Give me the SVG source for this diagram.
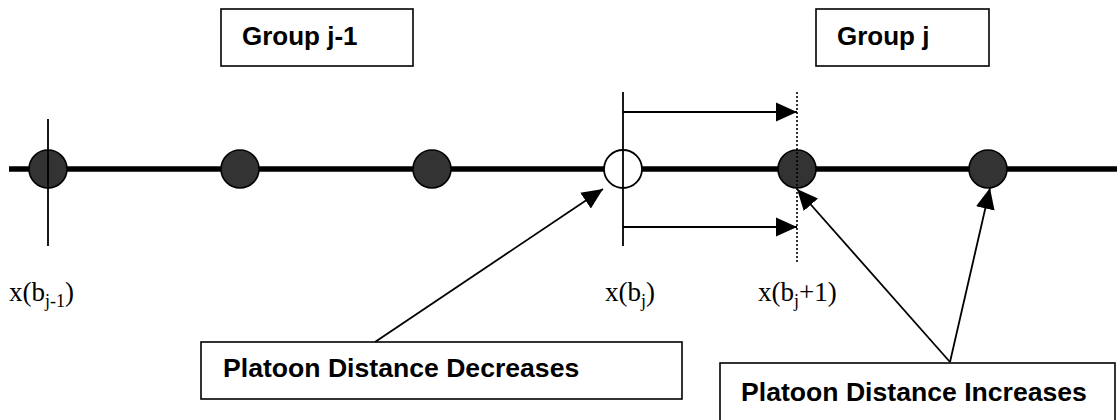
<svg xmlns="http://www.w3.org/2000/svg" width="1117" height="420" viewBox="0 0 1117 420">
<style>
.box{fill:#fff;stroke:#000;stroke-width:1.6}
.lbl{font-family:"Liberation Sans",Arial,sans-serif;font-weight:bold;font-size:26px;fill:#000}
.big{font-size:26.6px}
.ser{font-family:"Liberation Serif","Times New Roman",serif;font-size:27px;fill:#000}
.dot{fill:#333;stroke:#000;stroke-width:1.6}
.thin{stroke:#000;stroke-width:1.8;fill:none}
</style>
<defs>
<marker id="ah" markerUnits="userSpaceOnUse" markerWidth="22" markerHeight="20" refX="21" refY="10" orient="auto">
<path d="M0,0.5 L21,10 L0,19.5 Z" fill="#000"/>
</marker>
</defs>
<g id="axis">
<line x1="9" y1="169" x2="1117" y2="169" stroke="#000" stroke-width="5.5"/>
</g>
<g id="node-1"><circle class="dot" cx="48" cy="169" r="19"/></g>
<g id="node-2"><circle class="dot" cx="240" cy="169" r="19"/></g>
<g id="node-3"><circle class="dot" cx="432" cy="169" r="19"/></g>
<g id="node-4"><circle cx="623" cy="169" r="19" fill="#fff" stroke="#000" stroke-width="1.8"/></g>
<g id="node-5"><circle class="dot" cx="797" cy="169" r="19"/></g>
<g id="node-6"><circle class="dot" cx="988" cy="169" r="19"/></g>
<g id="markers">
<line class="thin" x1="48" y1="119" x2="48" y2="246"/>
<line class="thin" x1="623" y1="92" x2="623" y2="246"/>
<line x1="797" y1="92" x2="797" y2="264" stroke="#000" stroke-width="1.6" stroke-dasharray="2,2"/>
</g>
<g id="group-j-1">
<rect class="box" x="221" y="9" width="192" height="57"/>
<text class="lbl" x="242" y="45">Group j-1</text>
</g>
<g id="group-j">
<rect class="box" x="816" y="9" width="173" height="57"/>
<text class="lbl" x="837" y="45">Group j</text>
</g>
<g id="label-decreases">
<rect class="box" x="201" y="342" width="481" height="57"/>
<text class="lbl big" x="223" y="377">Platoon Distance Decreases</text>
</g>
<g id="label-increases">
<rect class="box" x="720" y="363" width="395" height="60"/>
<text class="lbl big" x="741" y="401">Platoon Distance Increases</text>
</g>
<g id="axis-labels">
<text class="ser" x="9" y="301">x(b<tspan font-size="18" dy="6">j-1</tspan><tspan dy="-6">)</tspan></text>
<text class="ser" x="605" y="301">x(b<tspan font-size="18" dy="6">j</tspan><tspan dy="-6">)</tspan></text>
<text class="ser" x="758" y="301">x(b<tspan font-size="18" dy="6">j</tspan><tspan dy="-6">+1)</tspan></text>
</g>
<g id="connectors">
<line class="thin" x1="623" y1="112" x2="797" y2="112" marker-end="url(#ah)"/>
<line class="thin" x1="623" y1="227" x2="797" y2="227" marker-end="url(#ah)"/>
<line class="thin" x1="375" y1="342" x2="603" y2="189" marker-end="url(#ah)"/>
<line class="thin" x1="950" y1="362" x2="797" y2="189" marker-end="url(#ah)"/>
<line class="thin" x1="950" y1="362" x2="990" y2="188" marker-end="url(#ah)"/>
</g>
</svg>
